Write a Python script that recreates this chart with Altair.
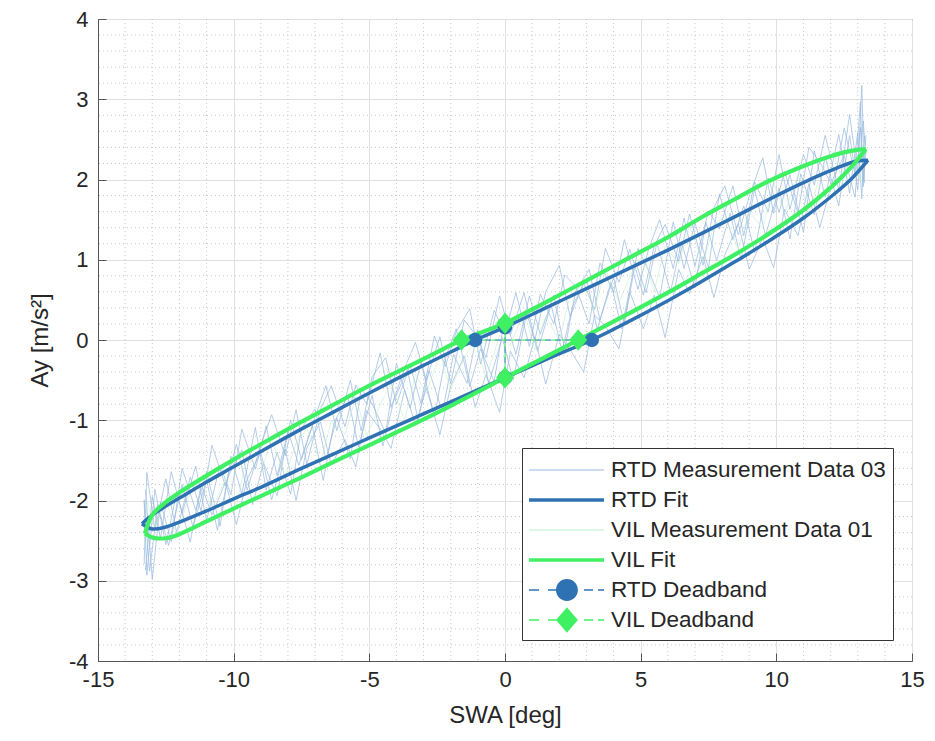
import altair as alt
import pandas as pd

# ---------------- data ----------------
x_ticks = [-15, -10, -5, 0, 5, 10, 15]
y_ticks = [-4, -3, -2, -1, 0, 1, 2, 3, 4]
minor_x = [-14, -13, -12, -11, -9, -8, -7, -6, -4, -3, -2, -1,
           1, 2, 3, 4, 6, 7, 8, 9, 11, 12, 13, 14]
minor_y = [-3.8, -3.6, -3.4, -3.2, -2.8, -2.6, -2.4, -2.2, -1.8, -1.6, -1.4, -1.2,
           -0.8, -0.6, -0.4, -0.2, 0.2, 0.4, 0.6, 0.8, 1.2, 1.4, 1.6, 1.8,
           2.2, 2.4, 2.6, 2.8, 3.2, 3.4, 3.6, 3.8]

# measurement samples (SWA positions)
xs_a = [-13.3, -13.2, -12.9, -12.5, -12.1, -11.6, -11.2, -10.8, -10.3, -9.9, -9.5, -9.0,
        -8.6, -8.1, -7.7, -7.3, -6.8, -6.4, -5.9, -5.5, -5.1, -4.6, -4.2, -3.7, -3.3,
        -2.9, -2.4, -2.0, -1.5, -1.1, -0.7, -0.2, 0.2, 0.7, 1.1, 1.5, 2.0, 2.4, 2.9,
        3.3, 3.7, 4.2, 4.6, 5.1, 5.5, 5.9, 6.4, 6.8, 7.3, 7.7, 8.1, 8.6, 9.0, 9.5,
        9.9, 10.3, 10.8, 11.2, 11.6, 12.1, 12.5, 12.9, 13.1, 13.2, 13.3]
xs_b = [-13.25, -13.0, -12.7, -12.3, -11.9, -11.4, -11.0, -10.5, -10.1, -9.7, -9.2, -8.8,
        -8.4, -7.9, -7.5, -7.0, -6.6, -6.2, -5.7, -5.3, -4.9, -4.4, -4.0, -3.5, -3.1,
        -2.6, -2.2, -1.8, -1.3, -0.9, -0.4, 0.0, 0.4, 0.9, 1.3, 1.8, 2.2, 2.6, 3.1,
        3.5, 4.0, 4.4, 4.9, 5.3, 5.7, 6.2, 6.6, 7.0, 7.5, 7.9, 8.4, 8.8, 9.2, 9.7,
        10.1, 10.5, 11.0, 11.4, 11.8, 12.3, 12.7, 13.0, 13.15, 13.25]
xs_c = [-13.3, -13.1, -12.8, -12.4, -11.9, -11.5, -11.0, -10.6, -10.2, -9.7, -9.3, -8.9,
        -8.4, -8.0, -7.6, -7.1, -6.7, -6.3, -5.8, -5.4, -4.9, -4.5, -4.1, -3.6, -3.2,
        -2.8, -2.3, -1.9, -1.4, -1.0, -0.6, -0.1, 0.3, 0.8, 1.2, 1.7, 2.1, 2.5, 3.0,
        3.4, 3.9, 4.3, 4.8, 5.2, 5.6, 6.1, 6.5, 7.0, 7.4, 7.8, 8.3, 8.7, 9.2, 9.6,
        10.1, 10.5, 10.9, 11.4, 11.8, 12.3, 12.7, 13.0, 13.2, 13.3]

rtd_meas_1 = [-2.00, -2.93, -1.86, -2.55, -1.90, -2.52, -1.80, -2.18, -1.77, -2.30, -1.73,
              -1.40, -1.99, -1.36, -2.00, -1.34, -1.02, -1.56, -1.24, -1.58, -0.88, -1.11,
              -1.35, -0.62, -1.06, -0.60, -1.18, -0.57, -0.20, -0.84, -0.43, -0.90, -0.14,
              -0.47, 0.04, -0.55, 0.07, -0.12, -0.40, 0.31, 0.17, -0.11, 0.60, 0.14, 0.56,
              0.03, 0.88, 0.58, 1.04, 0.53, 1.06, 1.45, 0.88, 1.27, 0.90, 1.63, 1.30, 1.95,
              1.40, 2.02, 2.30, 1.78, 2.65, 2.00, 2.34]
rtd_meas_2 = [-2.79, -1.65, -2.37, -1.73, -2.40, -1.71, -2.13, -1.31, -1.82, -1.30, -1.87,
              -1.31, -0.93, -1.44, -0.87, -1.55, -0.86, -0.57, -1.08, -0.56, -0.80, -0.16,
              -0.84, -0.35, -0.03, -0.50, 0.04, -0.54, 0.25, 0.07, -0.22, 0.55, 0.06, 0.59,
              0.00, 0.60, 0.93, 0.29, 0.71, 0.38, 1.14, 0.72, 1.13, 0.56, 1.17, 1.44, 0.98,
              1.57, 0.93, 1.65, 1.92, 1.31, 1.79, 2.27, 1.58, 2.10, 1.58, 2.40, 2.22, 1.90,
              2.64, 2.07, 2.97, 1.91, 2.55]
rtd_meas_3 = [-1.87, -2.98, -2.02, -2.51, -1.60, -2.12, -1.65, -2.32, -1.45, -1.92, -1.09,
              -1.87, -1.40, -1.92, -1.10, -0.86, -1.49, -0.97, -1.48, -0.61, -0.79, -1.16,
              -0.29, -0.85, -0.28, -0.95, -0.23, 0.14, -0.58, -0.11, -0.52, 0.30, -0.18,
              0.55, 0.07, 0.56, -0.12, 0.60, 0.88, 0.25, 0.78, 0.20, 1.14, 0.86, 0.53, 1.47,
              0.89, 1.46, 0.90, 1.82, 1.25, 1.67, 1.09, 2.02, 1.59, 2.06, 1.34, 2.36, 1.78,
              2.56, 1.83, 2.58, 1.76, 2.54]
rtd_meas_4 = [-2.87, -1.95, -2.47, -1.64, -2.16, -1.57, -2.25, -1.56, -1.93, -1.11, -1.61,
              -1.07, -1.69, -1.00, -1.49, -0.96, -0.57, -1.13, -0.50, -1.13, -0.46, -0.22,
              -0.80, -0.31, -0.79, 0.05, -0.33, 0.10, 0.39, -0.30, 0.37, 0.08, 0.59, -0.08,
              0.57, 0.20, 0.81, 0.67, 0.20, 0.96, 0.59, 1.25, 0.63, 1.14, 1.50, 0.89, 1.52,
              0.92, 1.61, 1.38, 1.92, 1.30, 1.97, 1.60, 2.31, 1.63, 2.31, 1.93, 2.55, 1.87,
              2.81, 2.07, 3.17, 1.96]
rtd_meas_5 = [-1.99, -2.88, -2.05, -2.56, -1.80, -2.33, -1.74, -2.37, -1.70, -1.37, -2.05,
              -1.53, -1.94, -1.13, -1.56, -1.07, -1.75, -1.03, -0.70, -1.33, -0.69, -1.32,
              -0.76, -0.37, -1.00, -0.38, -0.90, -0.18, -0.54, 0.13, -0.55, 0.03, -0.50,
              0.34, -0.14, 0.44, -0.14, 0.43, 0.77, 0.13, 0.72, 0.14, 0.98, 0.59, 1.21,
              0.60, 1.22, 0.65, 1.47, 0.99, 1.58, 1.00, 1.88, 1.30, 1.89, 1.26, 2.07, 1.56,
              2.28, 1.67, 2.55, 1.87, 2.73, 2.32]
vil_meas_1 = [-2.58, -2.00, -2.35, -1.99, -2.43, -1.90, -1.73, -2.11, -1.73, -2.06, -1.44,
              -1.65, -1.23, -1.70, -1.28, -1.11, -1.53, -1.01, -1.18, -0.71, -1.19, -0.81,
              -0.54, -1.00, -0.43, -0.66, -0.18, -0.61, -0.22, 0.00, -0.48, 0.06, -0.07,
              0.36, -0.12, 0.30, -0.01, 0.56, 0.70, 0.37, 0.89, 0.47, 0.79, 1.08, 0.60, 1.17,
              0.95, 1.42, 0.96, 1.43, 1.55, 1.13, 1.60, 1.39, 1.96, 1.58, 2.06, 1.58, 2.05,
              2.34, 1.91, 2.33, 1.97, 2.46, 2.40]

# fitted hysteresis loops (upper and lower branches)
rtd_up_x = [-13.38, -13.0, -12.5, -12.0, -11.0, -10.0, -8.9, -7.56, -6.45, -5.0, -3.5,
            -2.0, -1.1, 0.0, 1.5, 3.0, 4.5, 6.0, 7.2, 8.5, 9.66, 10.8, 11.5, 12.2, 12.97,
            13.38]
rtd_up_y = [-2.29, -2.18, -2.07, -1.97, -1.77, -1.58, -1.37, -1.12, -0.92, -0.66, -0.40,
            -0.15, 0.0, 0.16, 0.40, 0.64, 0.88, 1.12, 1.32, 1.54, 1.74, 1.93, 2.04, 2.14,
            2.23, 2.24]
rtd_lo_x = [-13.38, -13.0, -12.5, -12.0, -11.0, -10.0, -8.9, -7.5, -6.45, -5.0, -3.5,
            -2.0, 0.0, 1.6, 3.2, 4.5, 6.0, 7.2, 8.5, 9.66, 11.0, 12.1, 12.8, 13.38]
rtd_lo_y = [-2.29, -2.355, -2.33, -2.27, -2.13, -1.98, -1.82, -1.60, -1.44, -1.22, -0.995,
            -0.77, -0.47, -0.23, 0.0, 0.22, 0.49, 0.72, 0.98, 1.22, 1.52, 1.81, 2.02, 2.24]
vil_up_x = [-13.27, -13.0, -12.5, -12.0, -11.0, -10.0, -8.9, -7.56, -6.45, -5.0, -3.5,
            -2.5, -1.6, 0.0, 1.5, 3.0, 4.5, 6.0, 7.2, 8.5, 9.66, 10.87, 12.0, 12.8, 13.3]
vil_up_y = [-2.41, -2.18, -2.02, -1.90, -1.69, -1.49, -1.28, -1.03, -0.83, -0.57, -0.32,
            -0.15, 0.0, 0.21, 0.47, 0.74, 1.01, 1.28, 1.52, 1.76, 1.97, 2.15, 2.29, 2.36,
            2.38]
vil_lo_x = [-13.27, -13.0, -12.5, -12.0, -11.0, -10.0, -8.9, -7.56, -6.45, -5.0, -3.5,
            -2.0, 0.0, 1.5, 2.7, 4.5, 6.0, 7.2, 8.5, 9.66, 11.0, 12.1, 12.8, 13.3]
vil_lo_y = [-2.41, -2.46, -2.47, -2.42, -2.26, -2.10, -1.93, -1.72, -1.54, -1.31, -1.07,
            -0.82, -0.47, -0.21, 0.0, 0.32, 0.59, 0.82, 1.07, 1.31, 1.62, 1.93, 2.17, 2.38]

# deadband points: (left zero crossing, right zero crossing, upper, lower)
rtd_db_x = [-1.1, 3.2, 0.0, 0.0]
rtd_db_y = [0.0, 0.0, 0.16, -0.47]
vil_db_x = [-1.6, 2.7, 0.0, 0.0]
vil_db_y = [0.0, 0.0, 0.21, -0.47]

legend_names = ["RTD Measurement Data 03", "RTD Fit", "VIL Measurement Data 01",
                "VIL Fit", "RTD Deadband", "VIL Deadband"]

# ---------------- styling ----------------
RTD_FIT = "#2f72b4"
VIL_FIT = "#3ff062"
RTD_MEAS = "#98badf"
VIL_MEAS = "#bdeec9"
AX = "#555555"
TXT = "#262626"
FONT = "Liberation Sans"
W, H = 814, 642

xscale = alt.Scale(domain=[-15, 15], nice=False, zero=False)
yscale = alt.Scale(domain=[-4, 4], nice=False, zero=False)


def seq_df(xs, ys, **cols):
    df = pd.DataFrame({"x": xs, "y": ys})
    df["i"] = list(range(len(xs)))
    for k, v in cols.items():
        df[k] = v
    return df


meas_rtd = pd.concat([
    seq_df(xs_a, rtd_meas_1, trace="r1"),
    seq_df(xs_a, rtd_meas_2, trace="r2"),
    seq_df(xs_b, rtd_meas_3, trace="r3"),
    seq_df(xs_b, rtd_meas_4, trace="r4"),
    seq_df(xs_c, rtd_meas_5, trace="r5"),
])
meas_vil = seq_df(xs_a, vil_meas_1, trace="v1")

fit_rtd = pd.concat([seq_df(rtd_up_x, rtd_up_y, br="up"), seq_df(rtd_lo_x, rtd_lo_y, br="lo")])
fit_vil = pd.concat([seq_df(vil_up_x, vil_up_y, br="up"), seq_df(vil_lo_x, vil_lo_y, br="lo")])

db_rtd = pd.DataFrame({"x": rtd_db_x, "y": rtd_db_y, "seg": ["h", "h", "v", "v"]})
db_vil = pd.DataFrame({"x": vil_db_x, "y": vil_db_y, "seg": ["h", "h", "v", "v"]})

Xn = alt.X("x:Q", scale=xscale, axis=None)
Yn = alt.Y("y:Q", scale=yscale, axis=None)
LBL = "'' + datum.value"

# minor grid + main axes
grid_x = alt.Chart(pd.DataFrame({"v": minor_x})).mark_rule(
    color="#c8c8c8", strokeWidth=1, strokeDash=[1, 3]
).encode(
    x=alt.X("v:Q", scale=xscale, axis=alt.Axis(
        orient="bottom", values=x_ticks, title="SWA [deg]", grid=True,
        gridColor="#e0e0e0", tickSize=0, labelPadding=8, titlePadding=13,
        labelFlush=False, labelOverlap=False, domain=True, labelExpr=LBL))
)
grid_y = alt.Chart(pd.DataFrame({"v": minor_y})).mark_rule(
    color="#c8c8c8", strokeWidth=1, strokeDash=[1, 3]
).encode(
    y=alt.Y("v:Q", scale=yscale, axis=alt.Axis(
        orient="left", values=y_ticks, title="Ay [m/s²]", grid=True,
        gridColor="#e0e0e0", tickSize=0, labelPadding=10, titlePadding=16,
        labelFlush=False, labelOverlap=False, domain=True, labelExpr=LBL))
)

meas_rtd_layer = alt.Chart(meas_rtd).mark_line(
    color=RTD_MEAS, strokeWidth=0.9, opacity=0.8
).encode(x=Xn, y=Yn, detail="trace:N", order="i:Q")
meas_vil_layer = alt.Chart(meas_vil).mark_line(
    color=VIL_MEAS, strokeWidth=0.9, opacity=0.6
).encode(x=Xn, y=Yn, order="i:Q")

# RTD fit also carries the inward tick axes
fit_rtd_layer = alt.Chart(fit_rtd).mark_line(
    color=RTD_FIT, strokeWidth=3.5, interpolate="catmull-rom"
).encode(
    x=alt.X("x:Q", scale=xscale, axis=alt.Axis(
        orient="top", offset=-H, values=x_ticks, labels=False, title=None,
        grid=False, domain=False, tickSize=8, tickColor=AX)),
    y=alt.Y("y:Q", scale=yscale, axis=alt.Axis(
        orient="right", offset=-W, values=y_ticks, labels=False, title=None,
        grid=False, domain=False, tickSize=8, tickColor=AX)),
    detail="br:N",
    order="i:Q",
)
fit_vil_layer = alt.Chart(fit_vil).mark_line(
    color=VIL_FIT, strokeWidth=4.2, interpolate="catmull-rom"
).encode(x=Xn, y=Yn, detail="br:N", order="i:Q")

db_rtd_line = alt.Chart(db_rtd).mark_line(
    color=RTD_FIT, strokeWidth=1, strokeDash=[6, 4]).encode(x=Xn, y=Yn, detail="seg:N")
db_vil_line = alt.Chart(db_vil).mark_line(
    color=VIL_FIT, strokeWidth=1, strokeDash=[6, 4]).encode(x=Xn, y=Yn, detail="seg:N")
db_rtd_pts = alt.Chart(db_rtd).mark_point(
    shape="circle", filled=True, size=210, color=RTD_FIT, opacity=1).encode(x=Xn, y=Yn)
db_vil_pts = alt.Chart(db_vil).mark_point(
    shape="M-1,0L0,-1.2L1,0L0,1.2Z", filled=True, size=320, color=VIL_FIT, opacity=1
).encode(x=Xn, y=Yn)

# legend symbols: filled custom paths, 75px wide on a 30px symbol box
thin_path = "M-1,-0.04H4V0.04H-1Z"
thick_path = "M-1,-0.12H4V0.12H-1Z"
dash_part = ("M-1,-0.05H-0.33V0.05H-1Z M0.27,-0.05H0.85V0.05H0.27Z "
             "M2.67,-0.05H3.27V0.05H2.67Z M3.6,-0.05H4V0.05H3.6Z ")
circle_path = dash_part + "M0.8,0A0.73,0.73,0,1,1,2.26,0A0.73,0.73,0,1,1,0.8,0Z"
diamond_path = dash_part + "M0.8,0L1.53,-0.85L2.26,0L1.53,0.85Z"

leg = alt.Legend(
    title=None, orient="none", legendX=424, legendY=429, symbolSize=900,
    labelFontSize=22.5, labelFont=FONT, labelColor=TXT, labelOffset=52,
    rowPadding=3, padding=7, strokeColor="#333333", fillColor="white",
    symbolOpacity=1, symbolStrokeWidth=0, labelLimit=400)

legend_layer = alt.Chart(pd.DataFrame({"series": legend_names})).mark_point(
    opacity=0, filled=True, strokeWidth=0
).encode(
    fill=alt.Fill("series:N", legend=leg, scale=alt.Scale(
        domain=legend_names,
        range=[RTD_MEAS, RTD_FIT, VIL_MEAS, VIL_FIT, RTD_FIT, VIL_FIT])),
    shape=alt.Shape("series:N", legend=leg, scale=alt.Scale(
        domain=legend_names,
        range=[thin_path, thick_path, thin_path, thick_path, circle_path, diamond_path])),
)

chart = alt.layer(
    grid_x, grid_y, meas_rtd_layer, meas_vil_layer, fit_rtd_layer, fit_vil_layer,
    db_rtd_line, db_vil_line, db_rtd_pts, db_vil_pts, legend_layer
).properties(
    width=W, height=H,
    autosize=alt.AutoSizeParams(type="none"),
    padding={"left": 90, "top": 11, "right": 15, "bottom": 72},
).configure(
    font=FONT
).configure_view(
    stroke=AX, strokeWidth=1
).configure_axis(
    labelFont=FONT, titleFont=FONT, labelFontSize=22, titleFontSize=24,
    labelColor=TXT, titleColor=TXT, titleFontWeight="normal",
    domainColor=AX, tickColor=AX
)

chart.save("out.html", embed_options={"renderer": "svg", "actions": False})
